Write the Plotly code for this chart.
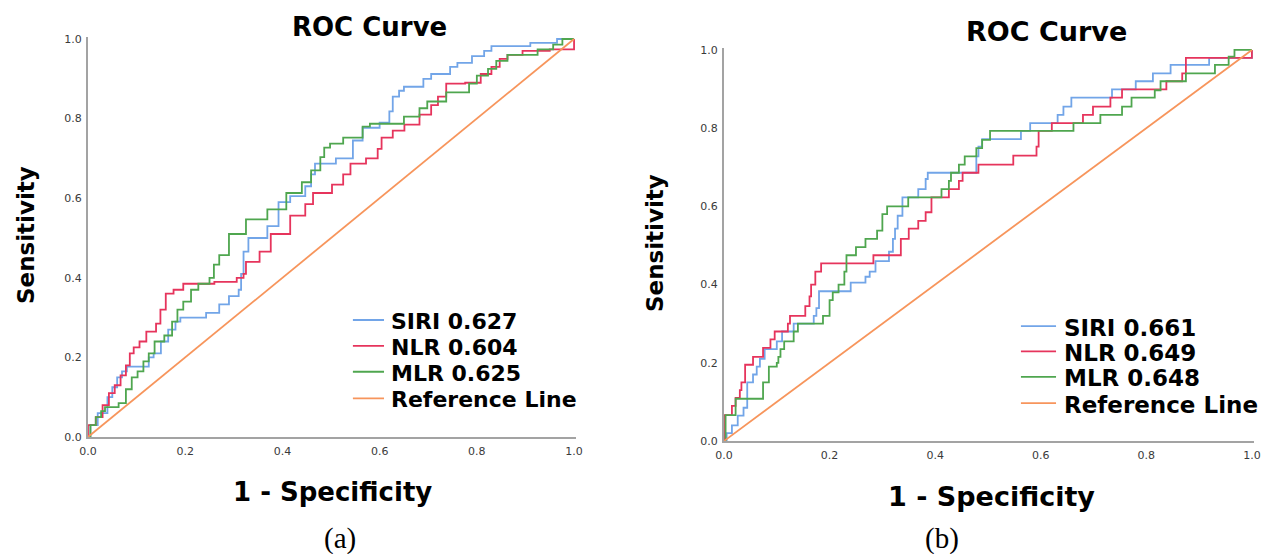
import plotly.graph_objects as go

# ---------------- data ----------------
ticks = [0.0, 0.2, 0.4, 0.6, 0.8, 1.0]
tick_labels = ["0.0", "0.2", "0.4", "0.6", "0.8", "1.0"]

series_names = ["SIRI", "NLR", "MLR"]
auc_a = ["0.627", "0.604", "0.625"]
auc_b = ["0.661", "0.649", "0.648"]

# panel (a)
a_siri_x = [0, 0.005, 0.02, 0.04, 0.05, 0.06, 0.07, 0.08, 0.125, 0.135, 0.15, 0.165, 0.18, 0.19, 0.243, 0.27, 0.29,
            0.31, 0.315, 0.32, 0.33, 0.369, 0.392, 0.416, 0.447, 0.459, 0.467, 0.51, 0.545, 0.565, 0.60, 0.62,
            0.627, 0.64, 0.65, 0.69, 0.706, 0.745, 0.76, 0.79, 0.815, 0.83, 0.91, 0.965, 1.0]
a_siri_y = [0, 0.03, 0.06, 0.10, 0.125, 0.15, 0.165, 0.177, 0.20, 0.21, 0.24, 0.27, 0.29, 0.30, 0.312, 0.333, 0.354,
            0.37, 0.41, 0.466, 0.50, 0.53, 0.59, 0.605, 0.63, 0.66, 0.687, 0.70, 0.745, 0.777, 0.79, 0.818,
            0.855, 0.87, 0.88, 0.90, 0.912, 0.93, 0.94, 0.957, 0.97, 0.982, 0.99, 1.0, 1.0]

a_nlr_x = [0, 0, 0.016, 0.03, 0.043, 0.055, 0.067, 0.078, 0.086, 0.094, 0.106, 0.12, 0.14, 0.149, 0.16, 0.176,
           0.196, 0.26, 0.306, 0.32, 0.325, 0.353, 0.376, 0.416, 0.447, 0.463, 0.502, 0.525, 0.54, 0.572, 0.596,
           0.604, 0.627, 0.651, 0.682, 0.706, 0.72, 0.737, 0.776, 0.808, 0.83, 0.847, 0.863, 0.894, 0.95, 1.0]
a_nlr_y = [0, 0.03, 0.05, 0.08, 0.11, 0.13, 0.155, 0.18, 0.21, 0.225, 0.24, 0.265, 0.285, 0.32, 0.36, 0.37,
           0.385, 0.39, 0.40, 0.41, 0.44, 0.466, 0.51, 0.556, 0.585, 0.613, 0.634, 0.66, 0.687, 0.70, 0.724,
           0.752, 0.77, 0.785, 0.81, 0.834, 0.855, 0.888, 0.89, 0.912, 0.93, 0.95, 0.96, 0.97, 0.974, 1.0]

a_mlr_x = [0, 0.005, 0.016, 0.027, 0.035, 0.063, 0.078, 0.09, 0.102, 0.114, 0.125, 0.137, 0.157, 0.173, 0.184,
           0.196, 0.212, 0.227, 0.25, 0.259, 0.27, 0.29, 0.325, 0.369, 0.408, 0.44, 0.459, 0.478, 0.486, 0.498,
           0.525, 0.565, 0.58, 0.65, 0.682, 0.698, 0.737, 0.784, 0.80, 0.823, 0.84, 0.863, 0.925, 0.957, 0.976, 1.0]
a_mlr_y = [0, 0.03, 0.05, 0.065, 0.075, 0.085, 0.12, 0.15, 0.165, 0.19, 0.21, 0.24, 0.255, 0.29, 0.32,
           0.34, 0.37, 0.385, 0.40, 0.433, 0.457, 0.51, 0.547, 0.572, 0.613, 0.64, 0.67, 0.703, 0.727, 0.737,
           0.752, 0.78, 0.787, 0.805, 0.826, 0.843, 0.866, 0.888, 0.908, 0.925, 0.945, 0.96, 0.974, 0.986, 1.0, 1.0]

# panel (b)
b_siri_x = [0, 0.005, 0.015, 0.026, 0.037, 0.044, 0.055, 0.062, 0.068, 0.077, 0.1, 0.11, 0.132, 0.17, 0.175, 0.18,
            0.24, 0.268, 0.276, 0.287, 0.3125, 0.32, 0.324, 0.329, 0.338, 0.368, 0.382, 0.386, 0.478, 0.482,
            0.489, 0.5625, 0.58, 0.632, 0.643, 0.658, 0.735, 0.78, 0.8125, 0.846, 0.919, 1.0]
b_siri_y = [0, 0.02, 0.04, 0.065, 0.085, 0.15, 0.17, 0.19, 0.21, 0.235, 0.255, 0.28, 0.30, 0.32, 0.34, 0.383,
            0.405, 0.42, 0.433, 0.46, 0.484, 0.517, 0.543, 0.576, 0.623, 0.644, 0.67, 0.686, 0.728, 0.753,
            0.772, 0.793, 0.813, 0.834, 0.855, 0.878, 0.899, 0.92, 0.94, 0.962, 0.98, 1.0]

b_nlr_x = [0, 0, 0.015, 0.022, 0.03, 0.033, 0.04, 0.055, 0.074, 0.088, 0.096, 0.121, 0.125, 0.154, 0.162, 0.165,
           0.173, 0.184, 0.283, 0.335, 0.35, 0.368, 0.382, 0.393, 0.426, 0.445, 0.452, 0.482, 0.548, 0.592,
           0.596, 0.621, 0.68, 0.699, 0.732, 0.754, 0.838, 0.868, 0.875, 1.0]
b_nlr_y = [0, 0.066, 0.09, 0.11, 0.13, 0.15, 0.195, 0.215, 0.238, 0.26, 0.28, 0.30, 0.32, 0.345, 0.37, 0.40,
           0.433, 0.454, 0.475, 0.517, 0.543, 0.563, 0.585, 0.623, 0.644, 0.665, 0.686, 0.707, 0.73, 0.753,
           0.793, 0.813, 0.834, 0.855, 0.878, 0.899, 0.92, 0.94, 0.98, 1.0]

b_mlr_x = [0, 0.003, 0.022, 0.074, 0.085, 0.1, 0.103, 0.107, 0.114, 0.132, 0.14, 0.1875, 0.2, 0.206, 0.217, 0.228,
           0.232, 0.25, 0.268, 0.29, 0.30, 0.309, 0.349, 0.412, 0.426, 0.43, 0.445, 0.456, 0.478, 0.489, 0.504,
           0.662, 0.713, 0.754, 0.772, 0.816, 0.827, 0.875, 0.93, 0.956, 0.967, 1.0]
b_mlr_y = [0, 0.066, 0.108, 0.15, 0.19, 0.2, 0.215, 0.235, 0.255, 0.28, 0.30, 0.32, 0.36, 0.38, 0.40, 0.433,
           0.475, 0.496, 0.517, 0.538, 0.58, 0.60, 0.623, 0.644, 0.665, 0.686, 0.707, 0.728, 0.749, 0.77, 0.793,
           0.813, 0.834, 0.855, 0.878, 0.897, 0.92, 0.94, 0.962, 0.983, 1.0, 1.0]

ref_x = [0, 1]
ref_y = [0, 1]

# ---------------- styles ----------------
W, H = 1271, 554
colors = {"SIRI": "#72a5e8", "NLR": "#e6345c", "MLR": "#4fa64f", "Reference Line": "#f7955c"}
BOLD = "DejaVu Sans"
axis_color = "#a3a3a3"
LW = 1.8


def px_x(p):
    return p / W


def px_y(p):
    return 1 - p / H


# panel domains (pixels)
panel_a = dict(x0=88, x1=576, y0=437, y1=37)
panel_b = dict(x0=724, x1=1254, y0=441, y1=48)

fig = go.Figure()

panels = [
    ("x", "y", [(a_siri_x, a_siri_y), (a_nlr_x, a_nlr_y), (a_mlr_x, a_mlr_y)]),
    ("x2", "y2", [(b_siri_x, b_siri_y), (b_nlr_x, b_nlr_y), (b_mlr_x, b_mlr_y)]),
]

for xa, ya, curves in panels:
    for name, (cx, cy) in zip(series_names, curves):
        fig.add_trace(go.Scatter(x=cx, y=cy, mode="lines", line=dict(color=colors[name], width=LW, shape="hv"),
                                 xaxis=xa, yaxis=ya, showlegend=False, hoverinfo="skip"))
    fig.add_trace(go.Scatter(x=ref_x, y=ref_y, mode="lines", line=dict(color=colors["Reference Line"], width=LW),
                             xaxis=xa, yaxis=ya, showlegend=False, hoverinfo="skip"))

axis_common = dict(showline=True, linecolor=axis_color, linewidth=2.2, showgrid=False, zeroline=False,
                   ticks="", tickvals=ticks, ticktext=tick_labels, fixedrange=True,
                   tickfont=dict(family="DejaVu Sans", size=11, color="#3a3a3a"))

fig.update_layout(
    width=W, height=H,
    margin=dict(l=0, r=0, t=0, b=0, autoexpand=False),
    paper_bgcolor="white", plot_bgcolor="white",
    xaxis=dict(domain=[px_x(panel_a["x0"]), px_x(panel_a["x1"])], range=[0, 1.004], anchor="y",
               ticklabelstandoff=3, **axis_common),
    yaxis=dict(domain=[px_y(panel_a["y0"]), px_y(panel_a["y1"])], range=[0, 1.005], anchor="x",
               ticklabelstandoff=2, **axis_common),
    xaxis2=dict(domain=[px_x(panel_b["x0"]), px_x(panel_b["x1"])], range=[0, 1.004], anchor="y2",
                ticklabelstandoff=3, **axis_common),
    yaxis2=dict(domain=[px_y(panel_b["y0"]), px_y(panel_b["y1"])], range=[0, 1.005], anchor="x2",
                ticklabelstandoff=2, **axis_common),
)

ann = []
shapes = []


def text(x, y, s, size, family=BOLD, weight="bold", angle=0, xanchor="center", xref="paper", yref="paper"):
    ann.append(dict(x=x, y=y, xref=xref, yref=yref, text=s, showarrow=False, xanchor=xanchor, yanchor="middle",
                    textangle=angle, font=dict(family=family, size=size, color="black", weight=weight)))


# titles and axis titles (pixel positions)
text(px_x(369), px_y(27), "ROC Curve", 26)
text(px_x(1046), px_y(31), "ROC Curve", 27)
text(px_x(26), px_y(235), "Sensitivity", 23, angle=-90)
text(px_x(655), px_y(243), "Sensitivity", 23, angle=-90)
text(px_x(332), px_y(492), "1 - Specificity", 26)
text(px_x(991), px_y(496), "1 - Specificity", 27)
text(px_x(340), px_y(538), "(a)", 29, family="Liberation Serif", weight="normal")
text(px_x(942), px_y(538), "(b)", 29, family="Liberation Serif", weight="normal")

# legends
legend_rows = [0.29, 0.225, 0.16, 0.093]
legend_specs = [
    ("x", "y", auc_a, 0.545, 0.609, 0.619, 22),
    ("x2", "y2", auc_b, 0.5625, 0.629, 0.640, 23),
]
for xr, yr, aucs, lx0, lx1, tx, fs in legend_specs:
    labels = [f"{n} {a}" for n, a in zip(series_names, aucs)] + ["Reference Line"]
    keys = series_names + ["Reference Line"]
    for lab, key, ry in zip(labels, keys, legend_rows):
        shapes.append(dict(type="line", xref=xr, yref=yr, x0=lx0, x1=lx1, y0=ry + 0.004, y1=ry + 0.004,
                           line=dict(color=colors[key], width=LW)))
        text(tx, ry, lab, fs, xanchor="left", xref=xr, yref=yr)

fig.update_layout(annotations=ann, shapes=shapes)

fig.write_html("out.html",
               config={"displayModeBar": False},
               post_script="document.body.style.margin='0';document.body.style.padding='0';"
                           "document.body.style.overflow='hidden';")
